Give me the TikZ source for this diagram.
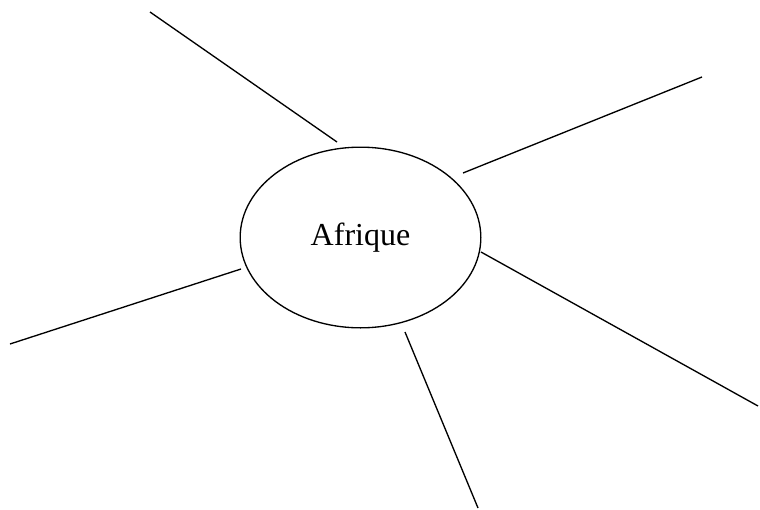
\documentclass[tikz,border=0pt]{standalone}
\usepackage{fontspec}
\setmainfont{Liberation Serif}
\usetikzlibrary{shapes.geometric}

\begin{document}
\begin{tikzpicture}[
  x=0.75pt,y=-0.75pt,
  topic/.style={draw,ellipse,line width=1pt,minimum width=180.5pt,minimum height=135.5pt,inner sep=0pt,font=\fontsize{24}{28}\selectfont},
  branch/.style={line width=1pt}
]
  \useasboundingbox (0,0) rectangle (760,510);

  \node[topic] (afrique) at (360.5,237.5) {Afrique};

  % branches
  \coordinate (nw_in) at (337,142);  \coordinate (nw_out) at (150,12);
  \coordinate (ne_in) at (463,173);  \coordinate (ne_out) at (702,77);
  \coordinate (w_in) at (241,269);   \coordinate (w_out) at (10,344);
  \coordinate (se_in) at (481,252);  \coordinate (se_out) at (758,406);
  \coordinate (s_in) at (405,332);   \coordinate (s_out) at (478,508);

  \draw[branch] (nw_in) -- (nw_out);
  \draw[branch] (ne_in) -- (ne_out);
  \draw[branch] (w_in) -- (w_out);
  \draw[branch] (se_in) -- (se_out);
  \draw[branch] (s_in) -- (s_out);
\end{tikzpicture}
\end{document}
